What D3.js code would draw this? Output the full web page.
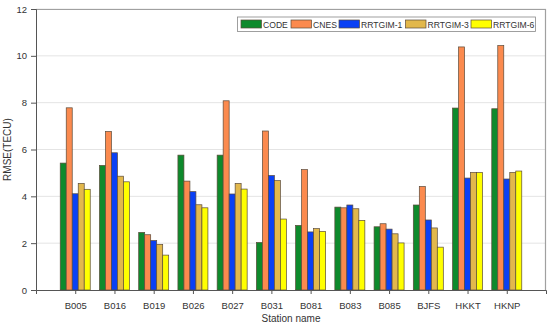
<!DOCTYPE html>
<html>
<head>
<meta charset="utf-8">
<script src="https://cdn.jsdelivr.net/npm/d3@7"></script>
<style>
    body { margin: 0; background: #fff; }
    #chart-area { width: 550px; height: 326px; }
    text { font-family: "Liberation Sans", Arial, sans-serif; fill: #333; }
</style>
</head>
<body>
<div id="chart-area"></div>
<script>
// station names along the x axis
let stations = ["B005", "B016", "B019", "B026", "B027", "B031", "B081", "B083", "B085", "BJFS", "HKKT", "HKNP"];

// RMSE (TECU) per model
let codeVals    = [5.42, 5.32, 2.46, 5.76, 5.76, 2.03, 2.76, 3.54, 2.70, 3.63, 7.77, 7.74];
let cnesVals    = [7.78, 6.77, 2.36, 4.65, 8.08, 6.79, 5.14, 3.51, 2.83, 4.42, 10.38, 10.44];
let rrtgim1Vals = [4.11, 5.86, 2.11, 4.20, 4.10, 4.89, 2.48, 3.63, 2.60, 2.99, 4.78, 4.74];
let rrtgim3Vals = [4.55, 4.86, 1.95, 3.64, 4.55, 4.67, 2.62, 3.47, 2.40, 2.65, 5.02, 5.02];
let rrtgim6Vals = [4.30, 4.62, 1.49, 3.51, 4.31, 3.03, 2.50, 2.97, 2.01, 1.83, 5.02, 5.08];

let seriesNames = ["CODE", "CNES", "RRTGIM-1", "RRTGIM-3", "RRTGIM-6"];
let seriesColors = ["#0e8a2c", "#fb8a4e", "#0a40f5", "#e2b84c", "#ffff00"];
let yTicks = [0, 2, 4, 6, 8, 10, 12];

class GroupedBars {
    constructor(parentElement) {
        this.parentElement = parentElement;
        this.initVis();
    }

    initVis() {
        let vis = this;

        vis.margin = {top: 9, right: 4, bottom: 36, left: 36};
        vis.width = 550 - vis.margin.left - vis.margin.right;
        vis.height = 326 - vis.margin.top - vis.margin.bottom;

        vis.svg = d3.select("#" + vis.parentElement).append("svg")
            .attr("width", 550)
            .attr("height", 326)
            .append("g")
            .attr("transform", "translate(" + vis.margin.left + "," + vis.margin.top + ")");

        vis.allSeries = [codeVals, cnesVals, rrtgim1Vals, rrtgim3Vals, rrtgim6Vals];

        // scales
        vis.x = d3.scalePoint().domain(stations).range([0, vis.width]).padding(1);
        vis.xSub = d3.scaleBand().domain(seriesNames).range([-15, 15]).padding(0);
        vis.y = d3.scaleLinear().domain([0, 12]).range([vis.height, 0]);

        // grid lines
        vis.svg.append("g")
            .selectAll("line")
            .data(yTicks.slice(1))
            .enter()
            .append("line")
            .attr("x1", 0)
            .attr("x2", vis.width)
            .attr("y1", d => vis.y(d))
            .attr("y2", d => vis.y(d))
            .attr("stroke", "#e4e4e4")
            .attr("stroke-width", 1);

        // box (top and right)
        vis.svg.append("path")
            .attr("d", "M0,0.5H" + (vis.width - 0.5) + "V" + vis.height)
            .attr("fill", "none")
            .attr("stroke", "#a0a0a0")
            .attr("stroke-width", 1.2);

        // bars
        let groups = vis.svg.selectAll(".station-group")
            .data(stations)
            .enter()
            .append("g")
            .attr("class", "station-group")
            .attr("transform", d => "translate(" + vis.x(d) + ",0)");

        groups.selectAll("rect")
            .data((d, i) => seriesNames.map((s, k) => ({series: s, k: k, value: vis.allSeries[k][i]})))
            .enter()
            .append("rect")
            .attr("x", d => vis.xSub(d.series))
            .attr("width", vis.xSub.bandwidth())
            .attr("y", d => vis.y(d.value))
            .attr("height", d => vis.height - vis.y(d.value))
            .attr("fill", d => seriesColors[d.k])
            .attr("stroke", "#5a4a3a")
            .attr("stroke-width", 0.7);

        // axes
        let xAxis = vis.svg.append("g")
            .attr("transform", "translate(0," + vis.height + ")")
            .call(d3.axisBottom(vis.x).tickSizeOuter(0).tickSize(4).tickPadding(8));
        let yAxis = vis.svg.append("g")
            .call(d3.axisLeft(vis.y).tickValues(yTicks).tickSizeOuter(0).tickSize(5).tickPadding(4));

        [xAxis, yAxis].forEach(a => {
            a.select(".domain").attr("stroke", "#555");
            a.selectAll(".tick line").attr("stroke", "#555");
            a.selectAll(".tick text").style("font-size", "9.5px").style("fill", "#333")
                .style("font-family", "Liberation Sans, Arial, sans-serif");
        });

        // axis titles
        vis.svg.append("text")
            .attr("x", vis.width / 2)
            .attr("y", vis.height + 32)
            .attr("text-anchor", "middle")
            .style("font-size", "10px")
            .text("Station name");

        vis.svg.append("text")
            .attr("transform", "translate(" + (-25) + "," + (vis.height / 2) + ") rotate(-90)")
            .attr("text-anchor", "middle")
            .style("font-size", "10px")
            .text("RMSE(TECU)");

        // legend
        let legend = vis.svg.append("g")
            .attr("transform", "translate(" + (237.5 - vis.margin.left) + "," + (17 - vis.margin.top) + ")");

        legend.append("rect")
            .attr("width", 298)
            .attr("height", 14.5)
            .attr("fill", "#fff")
            .attr("stroke", "#888")
            .attr("stroke-width", 0.8);

        let legendX = [3.5, 53.5, 101.5, 168, 233.5];
        let items = legend.selectAll(".legend-item")
            .data(seriesNames)
            .enter()
            .append("g")
            .attr("class", "legend-item")
            .attr("transform", (d, i) => "translate(" + legendX[i] + ",3)");

        items.append("rect")
            .attr("width", 20.5)
            .attr("height", 8)
            .attr("fill", (d, i) => seriesColors[i])
            .attr("stroke", "#5a4a3a")
            .attr("stroke-width", 0.7);

        items.append("text")
            .attr("x", 22)
            .attr("y", 7.6)
            .style("font-size", "8.6px")
            .text(d => d);
    }
}

let myChart = new GroupedBars("chart-area");
</script>
</body>
</html>
